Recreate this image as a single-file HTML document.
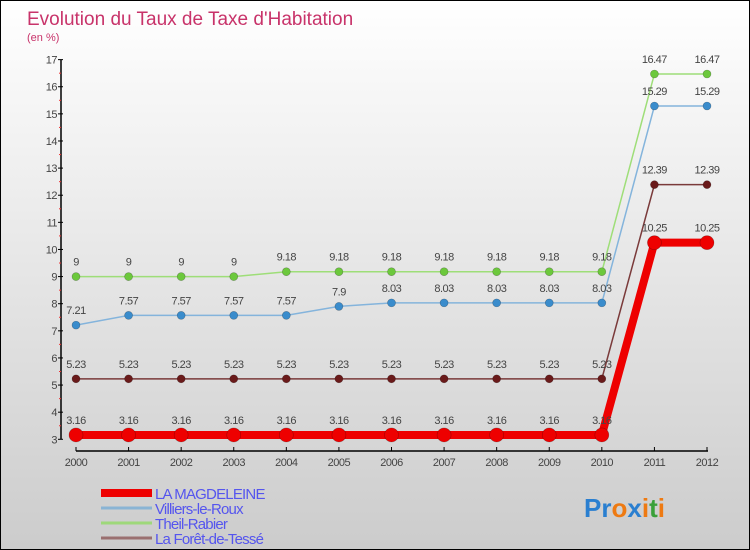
<!DOCTYPE html>
<html><head><meta charset="utf-8"><style>
html,body{margin:0;padding:0}
body{width:750px;height:550px;overflow:hidden;font-family:"Liberation Sans",sans-serif}
#wrap{position:relative;width:748px;height:548px;border:1px solid #000;background:linear-gradient(#ffffff,#cccccc)}
svg{position:absolute;left:0;top:0}
</style></head><body>
<div id="wrap">
<svg id="chart" width="748" height="548">
<text x="26" y="24" font-size="19" fill="#c8336a">Evolution du Taux de Taxe d'Habitation</text>
<text x="26" y="40" font-size="11" fill="#c8336a">(en %)</text>
<g id="axes"></g><g id="series"></g>
<g id="legend"></g>
<g font-size="26" font-weight="bold">
<text x="583" y="516"><tspan fill="#2a7fd0">Pr</tspan><tspan fill="#ee7a12">o</tspan><tspan fill="#2a7fd0">x</tspan><tspan fill="#ee7a12">i</tspan><tspan fill="#3aa03a">t</tspan><tspan fill="#ee7a12">i</tspan></text>
</g>
</svg></div>
<script>
const years=[2000,2001,2002,2003,2004,2005,2006,2007,2008,2009,2010,2011,2012];
const yTicks=[3,4,5,6,7,8,9,10,11,12,13,14,15,16,17];
const magdeleine=[3.16,3.16,3.16,3.16,3.16,3.16,3.16,3.16,3.16,3.16,3.16,10.25,10.25];
const villiers=[7.21,7.57,7.57,7.57,7.57,7.9,8.03,8.03,8.03,8.03,8.03,15.29,15.29];
const theil=[9,9,9,9,9.18,9.18,9.18,9.18,9.18,9.18,9.18,16.47,16.47];
const foret=[5.23,5.23,5.23,5.23,5.23,5.23,5.23,5.23,5.23,5.23,5.23,12.39,12.39];
const seriesNames=["LA MAGDELEINE","Villiers-le-Roux","Theil-Rabier","La Forêt-de-Tessé"];

const NS="http://www.w3.org/2000/svg";
const X0=75,X1=706,Y3=438.3,PU=27.12;
function x(i){return X0+(X1-X0)*i/(years.length-1);}
function y(v){return Y3-(v-3)*PU;}
function mk(tag,attrs,parent){const e=document.createElementNS(NS,tag);for(const k in attrs)e.setAttribute(k,attrs[k]);parent.appendChild(e);return e;}
const axes=document.getElementById('axes');
const ser=document.getElementById('series');
const leg=document.getElementById('legend');

let ax=mk('line',{x1:60,y1:y(17),x2:60,y2:y(3),stroke:'#000','stroke-width':1.5},axes);


let xa=mk('line',{x1:X0,y1:450,x2:X1+1,y2:450,stroke:'#000','stroke-width':1.5},axes);


yTicks.forEach(v=>{
  mk('line',{x1:57,y1:y(v),x2:62,y2:y(v),stroke:'#000'},axes);
  if(v<17)mk('line',{x1:58,y1:y(v+0.5),x2:60,y2:y(v+0.5),stroke:'#e33'},axes);
  const t=mk('text',{x:56,y:y(v)+4,'font-size':11,fill:'#444','text-anchor':'end','letter-spacing':'-0.5'},axes);
  t.textContent=v;
  
  
});
years.forEach((yr,i)=>{
  mk('line',{x1:x(i),y1:446,x2:x(i),y2:450,stroke:'#000'},axes);
  const t=mk('text',{x:x(i),y:465,'font-size':11,fill:'#444','text-anchor':'middle','letter-spacing':'-0.5'},axes);
  t.textContent=yr;
  
  
});

function drawSeries(data,line,dot,w,r,name){
  const g=mk('g',{},ser);
  
  
  mk('polyline',{points:data.map((v,i)=>x(i)+','+y(v)).join(' '),fill:'none',stroke:line,'stroke-width':w},g);
  data.forEach((v,i)=>{
    const c=mk('circle',{cx:x(i),cy:y(v),r:r,fill:dot,stroke:'rgba(0,0,0,0.3)','stroke-width':0.6},g);
    
    
    const t=mk('text',{x:x(i),y:y(v)-11,'font-size':11,fill:'#444','text-anchor':'middle','letter-spacing':'-0.5'},g);
    t.textContent=v;
    
    
  });
}
drawSeries(theil,'#9ede78','#6cc83c',1.5,4,'series-theil-rabier');
drawSeries(villiers,'#84b4dc','#3a8ccc',1.5,4,'series-villiers-le-roux');
drawSeries(foret,'#7a3a3a','#6a1a1a',1.5,4,'series-la-foret-de-tesse');
drawSeries(magdeleine,'#ee0000','#ee0000',8,7,'series-la-magdeleine');

const legCols=['#ee0000','#8ab4d4','#9ed87a','#9a7070'];
const legW=[8,3,3,3];
seriesNames.forEach((n,i)=>{
  const yy=492+i*15;
  const g=mk('g',{},leg);
  
  
  mk('line',{x1:100,y1:yy,x2:151,y2:yy,stroke:legCols[i],'stroke-width':legW[i]},g);
  const t=mk('text',{x:154,y:yy+6,'font-size':15,fill:'#5555ee','letter-spacing':'-0.8'},g);
  t.textContent=n;
});
</script>
</body></html>
